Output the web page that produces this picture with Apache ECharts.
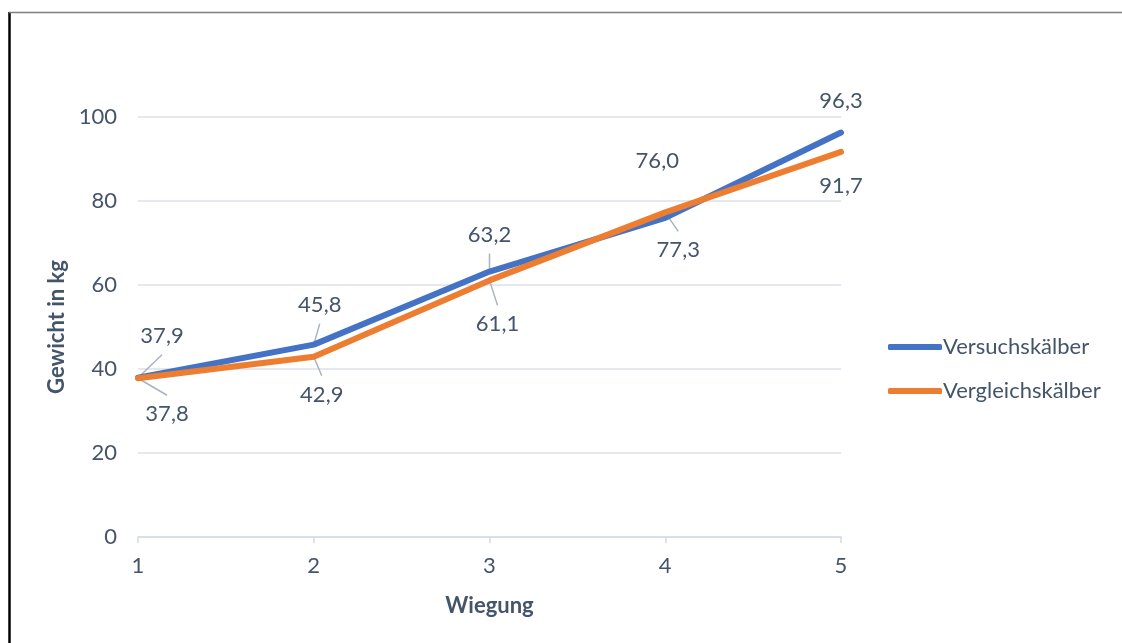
<!DOCTYPE html>
<html>
<head>
<meta charset="utf-8">
<script src="https://cdn.jsdelivr.net/npm/echarts@6/dist/echarts.min.js"></script>
<style>
  html, body { margin: 0; padding: 0; background: #ffffff; }
  #chart { width: 1122px; height: 643px; }
</style>
</head>
<body>
<div id="chart"></div>
<script>
// Weighings and calf weights (kg)
var wiegungen = ['1', '2', '3', '4', '5'];
var versuchskaelber = [37.9, 45.8, 63.2, 76.0, 96.3];
var vergleichskaelber = [37.8, 42.9, 61.1, 77.3, 91.7];
var yTicks = { min: 0, max: 100, interval: 20 };

// Data label placement: offset of the label centre from its point,
// and whether a leader line joins label and point
var versuchLabelOffsets = [[24, -42], [6, -40], [0, -37], [-8, -57], [0, -32]];
var vergleichLabelOffsets = [[29, 36], [8, 38], [8, 44], [13, 38], [0, 34]];
var versuchLeaders = [true, true, true, false, false];
var vergleichLeaders = [true, true, true, true, false];
var leaderGap = 19; // leader stops this far from the label centre

var textColor = '#44546A';
var fontFamily = 'Lato, "Open Sans", sans-serif';
var fontSize = 22;
var fmt = function (v) { return v.toFixed(1).replace('.', ','); };

function buildSeries(name, values, color, offsets, z) {
  return {
    name: name,
    type: 'line',
    z: z,
    data: values,
    symbol: 'circle',
    symbolSize: 1,
    showSymbol: true,
    itemStyle: { color: color },
    lineStyle: { color: color, width: 6, cap: 'round', join: 'round' },
    label: {
      show: true,
      position: 'inside',
      formatter: function (p) { return fmt(p.value); },
      color: textColor,
      fontFamily: fontFamily,
      fontSize: fontSize
    },
    labelLayout: function (params) {
      var o = offsets[params.dataIndex];
      return { dx: o[0], dy: o[1], hideOverlap: false };
    },
    emphasis: { disabled: true },
    animation: false
  };
}

// Leader lines from each point towards its moved label
function buildLeaders(values, offsets, leaders) {
  var items = [];
  values.forEach(function (v, i) {
    if (leaders[i]) items.push([i, v, offsets[i][0], offsets[i][1]]);
  });
  return {
    type: 'custom',
    z: 2,
    silent: true,
    data: items,
    encode: { x: 0, y: 1 },
    renderItem: function (params, api) {
      var p = api.coord([api.value(0), api.value(1)]);
      var dx = api.value(2), dy = api.value(3);
      var ex = p[0] + dx;
      var ey = p[1] + dy - (dy < 0 ? -leaderGap : leaderGap);
      return {
        type: 'line',
        shape: { x1: p[0], y1: p[1], x2: ex, y2: ey },
        style: { stroke: '#A9B3C1', lineWidth: 1.5 }
      };
    },
    animation: false
  };
}

var chart = echarts.init(document.getElementById('chart'), null, { renderer: 'canvas' });
chart.setOption({
  backgroundColor: '#ffffff',
  animation: false,
  textStyle: { fontFamily: fontFamily },
  grid: { left: 138, right: 281, top: 117, bottom: 106, containLabel: false },
  legend: {
    orient: 'vertical',
    left: 888,
    top: 336,
    padding: 0,
    itemGap: 22,
    itemWidth: 54,
    itemHeight: 6,
    icon: 'roundRect',
    textStyle: { color: textColor, fontSize: fontSize, fontFamily: fontFamily, padding: [0, 0, 0, -4] },
    data: ['Versuchskälber', 'Vergleichskälber']
  },
  xAxis: {
    type: 'category',
    data: wiegungen,
    boundaryGap: false,
    name: 'Wiegung',
    nameLocation: 'middle',
    nameGap: 58,
    nameTextStyle: { color: textColor, fontSize: fontSize, fontWeight: 'bold', fontFamily: fontFamily },
    axisLine: { lineStyle: { color: '#D5DBE4', width: 1.5 } },
    axisTick: { show: true, length: 6, lineStyle: { color: '#D5DBE4', width: 1.5 } },
    axisLabel: { color: textColor, fontSize: fontSize, margin: 18, fontFamily: fontFamily },
    splitLine: { show: false }
  },
  yAxis: {
    type: 'value',
    min: yTicks.min,
    max: yTicks.max,
    interval: yTicks.interval,
    name: 'Gewicht in kg',
    nameLocation: 'middle',
    nameGap: 68,
    nameRotate: 90,
    nameTextStyle: { color: textColor, fontSize: fontSize, fontWeight: 'bold', fontFamily: fontFamily },
    axisLine: { show: false },
    axisTick: { show: false },
    axisLabel: { color: textColor, fontSize: fontSize, margin: 21, fontFamily: fontFamily },
    splitLine: { lineStyle: { color: '#DCE1E8', width: 1.5 } }
  },
  series: [
    buildLeaders(versuchskaelber, versuchLabelOffsets, versuchLeaders),
    buildLeaders(vergleichskaelber, vergleichLabelOffsets, vergleichLeaders),
    buildSeries('Versuchskälber', versuchskaelber, '#4472C4', versuchLabelOffsets, 3),
    buildSeries('Vergleichskälber', vergleichskaelber, '#ED7D31', vergleichLabelOffsets, 4)
  ],
  graphic: [
    { type: 'line', shape: { x1: 9.5, y1: 12, x2: 9.5, y2: 643 }, style: { stroke: '#000000', lineWidth: 2.5 }, silent: true },
    { type: 'line', shape: { x1: 9, y1: 12.5, x2: 1122, y2: 12.5 }, style: { stroke: '#7F7F7F', lineWidth: 1.3 }, silent: true }
  ]
});
</script>
</body>
</html>
